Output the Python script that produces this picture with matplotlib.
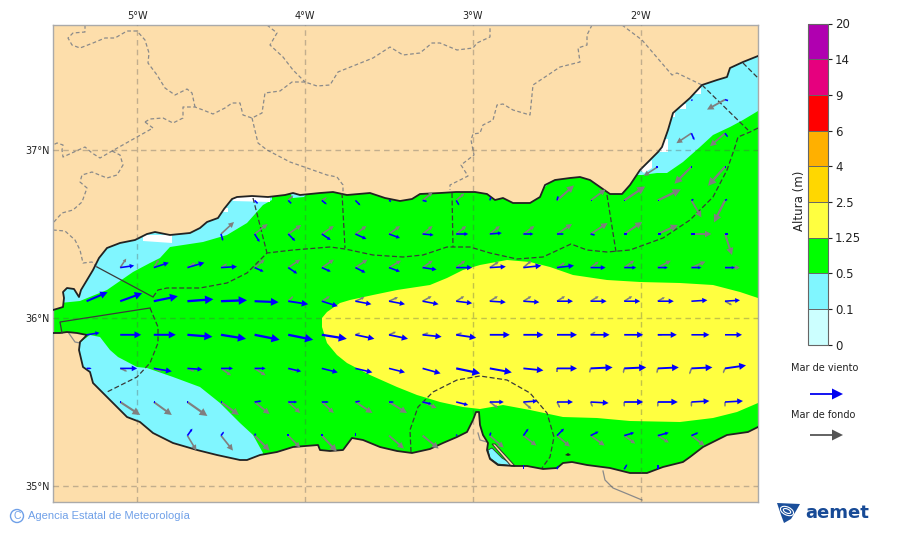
import matplotlib
matplotlib.use("Agg")
import numpy as np
import matplotlib.colors as mcolors
from matplotlib import pyplot as plt
from matplotlib.colorbar import Colorbar
from matplotlib.patches import Circle, Ellipse, FancyArrow, Polygon

# Outlines are digitised from the chart sheet: 168 sheet units per degree,
# 5W sits at x=137 and 36N at y=318, y grows southwards.
north_coast = [(53, 310), (63, 307), (64, 298), (63, 292), (67, 288), (74, 289), (79, 297), (81, 290), (87, 280),
               (93, 270), (99, 258), (107, 248), (120, 243), (135, 240), (147, 234), (155, 232), (170, 235),
               (190, 233), (200, 228), (207, 222), (218, 218), (224, 209), (232, 199), (237, 197), (252, 196),
               (268, 197), (285, 195), (293, 193), (300, 195), (320, 193), (333, 192), (347, 195), (370, 193),
               (385, 198), (400, 201), (412, 199), (420, 194), (440, 193), (456, 192), (475, 192), (487, 194),
               (495, 200), (503, 198), (513, 203), (530, 203), (540, 197), (545, 185), (555, 180), (570, 178),
               (580, 177), (590, 180), (600, 187), (610, 194), (622, 194), (630, 185), (640, 170), (658, 152),
               (662, 147), (668, 130), (673, 113), (690, 98), (702, 85), (717, 80), (727, 77), (730, 68),
               (743, 62), (758, 56)]
south_coast = [(758, 427), (748, 432), (727, 435), (703, 447), (690, 457), (683, 462), (663, 467), (647, 473),
               (630, 473), (610, 468), (587, 465), (572, 462), (563, 463), (557, 468), (543, 469), (527, 466),
               (515, 466), (498, 465), (490, 459), (487, 450), (488, 443), (483, 435), (480, 425), (479, 412),
               (476, 412), (473, 420), (467, 432), (457, 437), (443, 443), (430, 449), (412, 453), (397, 451),
               (380, 447), (363, 440), (352, 438), (343, 450), (330, 451), (320, 450), (318, 445), (293, 447),
               (277, 452), (260, 455), (247, 460), (240, 460), (217, 455), (197, 450), (173, 443), (153, 433),
               (140, 422), (127, 417), (113, 403), (103, 393), (93, 383), (90, 372), (83, 367), (79, 350),
               (80, 342), (87, 335), (77, 333), (67, 332), (60, 333), (53, 333)]

blue_nw = [(60, 303), (80, 301), (107, 290), (133, 272), (150, 263), (160, 258), (170, 247), (203, 242), (227, 235),
           (247, 223), (263, 205), (272, 200), (272, 185), (60, 185)]
blue_sw = [(79, 343), (90, 335), (100, 337), (110, 350), (118, 357), (137, 367), (147, 368), (173, 377), (200, 387),
           (220, 403), (240, 423), (253, 435), (263, 453), (257, 470), (60, 470), (60, 345)]
blue_ne = [(642, 175), (657, 173), (667, 173), (683, 162), (700, 147), (713, 135), (730, 127), (743, 120), (758, 111),
           (770, 111), (770, 40), (620, 40), (620, 175)]
blue_specks = [[(288, 190), (310, 190), (304, 197), (293, 198)], [(540, 192), (552, 180), (545, 178), (538, 188)]]
lagoon = [(488, 450), (490, 458), (498, 464), (515, 466), (502, 458), (492, 448)]
spit = [(492, 444), (495, 444), (515, 466), (511, 466)]
speck = [(565, 455), (568, 453), (571, 455), (568, 456)]

yellow_top = [(322, 318), (327, 312), (340, 303), (350, 300), (373, 295), (397, 290), (430, 285), (447, 278), (463, 270),
              (480, 265), (507, 260), (530, 262), (550, 267), (573, 275), (607, 280), (640, 282), (680, 283),
              (713, 285), (740, 292), (758, 298)]
yellow_bottom = [(758, 403), (737, 412), (713, 418), (680, 422), (630, 421), (597, 418), (563, 417), (530, 410),
                 (503, 405), (480, 409), (463, 407), (440, 402), (417, 395), (397, 387), (370, 375), (347, 363),
                 (337, 355), (327, 343), (322, 327)]

white_patches = [[(143, 235), (172, 235), (172, 243), (143, 241)], [(233, 195), (270, 195), (270, 202), (233, 201)],
                 [(222, 208), (228, 208), (228, 212), (222, 212)], [(660, 139), (668, 139), (668, 152), (660, 152)],
                 [(670, 112), (675, 112), (675, 117), (670, 117)], [(680, 104), (686, 104), (686, 109), (680, 109)],
                 [(694, 88), (701, 88), (701, 94), (694, 94)], [(640, 170), (652, 160), (652, 168), (644, 173)]]

# Limits of the forecast zones, the dashed ones run over the sea
zone_long = [(153, 297), (158, 290), (167, 288), (200, 288), (227, 283), (247, 273), (267, 253), (293, 250), (330, 247),
             (345, 249), (373, 255), (403, 257), (423, 255), (447, 247), (470, 247), (490, 253), (517, 259), (543, 257),
             (571, 244), (587, 250), (607, 252), (630, 250), (663, 238), (690, 220), (713, 197), (727, 170), (735, 147),
             (738, 137), (750, 132), (758, 128)]
zone_west = [(150, 308), (158, 327), (158, 343), (150, 363), (137, 377), (107, 392)]
zone_melilla = [(411, 452), (410, 430), (418, 407), (433, 392), (457, 380), (480, 376), (507, 380), (530, 393),
                (547, 413), (554, 437), (550, 457), (542, 468)]
zone_spokes = [[(253, 198), (267, 253)], [(342, 193), (345, 248)], [(452, 193), (453, 247)], [(607, 195), (616, 252)],
               [(702, 85), (748, 130)], [(743, 63), (758, 78)]]
strait_lines = [[(97, 267), (153, 297)], [(150, 308), (60, 322), (62, 333)]]

borders = [[(85, 25), (85, 32), (73, 33), (68, 38), (72, 45), (80, 48), (93, 43), (105, 38), (115, 38), (127, 31),
            (137, 31), (145, 40), (149, 53), (148, 63), (157, 75), (165, 88), (175, 95), (187, 89), (192, 93), (195, 107)],
           [(145, 122), (150, 119), (163, 118), (173, 123), (183, 118), (183, 107), (195, 107), (203, 110), (213, 114),
            (225, 108), (232, 103), (240, 103), (243, 115), (252, 118), (262, 113), (265, 93), (280, 91), (292, 82),
            (305, 82), (317, 86), (330, 85), (338, 72), (363, 62), (373, 58), (390, 47), (403, 55), (420, 53), (432, 43),
            (440, 43), (457, 50), (473, 48), (477, 43), (490, 37), (490, 25)],
           [(145, 122), (153, 128), (137, 137), (112, 151), (100, 158), (92, 153), (85, 147), (63, 157), (62, 150),
            (63, 145), (57, 143), (53, 145)],
           [(112, 151), (120, 155), (123, 165), (117, 175), (107, 178), (92, 172), (82, 175), (80, 182), (87, 188),
            (82, 202), (73, 210), (62, 213), (53, 223)],
           [(53, 230), (65, 231), (75, 240), (80, 250), (83, 263), (92, 262), (97, 267)],
           [(267, 25), (277, 33), (270, 45), (283, 57), (293, 70), (305, 82)],
           [(252, 118), (258, 143), (267, 150), (290, 162), (327, 175), (337, 177), (343, 185), (343, 193)],
           [(592, 25), (587, 35), (587, 45), (578, 48), (580, 62), (560, 67), (533, 85), (530, 115), (513, 110),
            (503, 104), (497, 105), (493, 120), (483, 125), (480, 133), (473, 134), (471, 140), (474, 155), (461, 165),
            (468, 176), (450, 185), (450, 190)],
           [(622, 25), (642, 40), (672, 75), (677, 73), (702, 85)]]
solid_borders = [[(603, 471), (605, 480), (613, 488), (630, 495), (642, 500)],
                 [(478, 433), (480, 440), (487, 442)], [(68, 332), (75, 342), (80, 343)]]

# Arrow grid of the model, components in sheet units (u east, v north)
arrow_lons = [-5.3, -5.1, -4.9, -4.7, -4.5, -4.3, -4.1, -3.9, -3.7, -3.5, -3.3, -3.1, -2.9, -2.7, -2.5, -2.3, -2.1, -1.9, -1.7, -1.5]
arrow_lats = [37.3, 37.1, 36.9, 36.7, 36.5, 36.3, 36.1, 35.9, 35.7, 35.5, 35.3, 35.1]

wind_u = [[0, 0, 0, 0, 0, 0, 0, 0, 0, 0, 0, 0, 0, 0, 0, 0, 0, 0, 1, 3],
          [0, 0, 0, 0, 0, 0, 0, 0, 0, 0, 0, 0, 0, 0, 0, 0, 0, 0, 3, 3],
          [0, 0, 0, 0, 0, 0, 0, 0, 0, 0, 0, 0, 0, 0, 0, 0, 0, -2, 1, 1],
          [0, 0, 0, 0, 0, 3, 3, 5, 5, 2, 4, 3, 1, 0, 1, 1, 1, 1, 2, 2],
          [0, 0, 0, 0, 2, 5, 7, 9, 11, 11, 11, 12, 12, 10, 7, 4, 3, 3, 4, 3],
          [0, 14, 15, 17, 16, 9, 9, 9, 10, 11, 14, 16, 16, 18, 17, 15, 12, 10, 10, 10],
          [21, 22, 24, 26, 26, 24, 20, 16, 16, 16, 16, 16, 16, 16, 16, 16, 16, 16, 16, 15],
          [13, 21, 22, 25, 25, 25, 25, 25, 19, 19, 19, 20, 20, 20, 20, 19, 19, 19, 18, 17],
          [5, 17, 18, 15, 12, 11, 13, 16, 17, 16, 18, 24, 22, 20, 20, 22, 22, 21, 21, 21],
          [0, 1, 1, 1, 1, 7, 9, 7, 5, 5, 9, 12, 14, 14, 16, 18, 19, 20, 18, 18],
          [0, 0, 0, 5, 3, 1, 0, 0, 0, 0, 0, 1, 1, 5, 7, 8, 10, 11, 7, 0],
          [0, 0, 0, 0, 0, 0, 0, 0, 0, 0, 0, 0, 0, 0, 1, 0, 3, 0, 0, 0]]
wind_v = [[0, 0, 0, 0, 0, 0, 0, 0, 0, 0, 0, 0, 0, 0, 0, 0, 0, 0, -1, -1],
          [0, 0, 0, 0, 0, 0, 0, 0, 0, 0, 0, 0, 0, 0, 0, 0, 0, 0, -7, -4],
          [0, 0, 0, 0, 0, 0, 0, 0, 0, 0, 0, 0, 0, 0, 0, 0, 0, 0, 0, 0],
          [0, 0, 0, 0, 0, -3, -3, -4, -5, -1, -1, -5, 3, 0, 4, 0, 0, 0, 1, 1],
          [0, 0, 0, 0, -7, -8, -7, -6, -5, -4, -1, 0, 1, 0, 0, -1, 0, 0, 0, 0],
          [0, 2, 5, 5, 1, -4, -6, -4, -5, -4, -2, 0, 1, 2, 2, 0, 0, 0, 0, 0],
          [9, 8, 5, 2, 1, -1, -3, -5, -3, -3, -3, -2, -1, -1, 0, 0, 0, 0, 1, 1],
          [2, 0, 0, -2, -4, -5, -5, -4, -4, -4, -2, -3, 0, 0, 0, 0, 0, 0, 0, 0],
          [0, 0, -3, -1, 0, 0, -3, -4, -4, -4, -5, -5, -4, -2, 0, 1, 1, 1, 1, 3],
          [0, 0, 0, 0, 0, 1, 0, 0, 1, 0, -2, -3, 0, 1, 0, -1, 0, 0, 1, 1],
          [0, 0, 0, 7, 4, 2, 2, 2, 3, 0, 0, 1, 3, 7, 7, 4, 3, 3, 3, 0],
          [0, 0, 0, 0, 0, 0, 0, 0, 0, 0, 0, 0, 0, 4, 3, 0, 5, 4, 0, 0]]
swell_u = [[0, 0, 0, 0, 0, 0, 0, 0, 0, 0, 0, 0, 0, 0, 0, 0, 0, 0, 0, -18],
           [0, 0, 0, 0, 0, 0, 0, 0, 0, 0, 0, 0, 0, 0, 0, 0, 0, 0, -15, -15],
           [0, 0, 0, 0, 0, 0, 0, 0, 0, 0, 0, 0, 0, 0, 0, 0, 0, -14, -17, -17],
           [0, 0, 0, 0, 0, 0, 5, 5, 0, 0, 10, 8, 0, 0, 17, 15, 21, 23, 10, -11],
           [0, 0, 0, 0, 13, 13, 13, 12, 11, 11, 10, 10, 10, 11, 15, 17, 18, 20, 20, 7],
           [0, 6, 5, 8, 6, 10, 12, 12, 12, 12, 10, 9, 9, 8, 8, 8, 10, 13, 14, 15],
           [0, 0, 0, 0, 0, 0, 5, 8, 9, 9, 9, 8, 8, 8, 8, 8, 8, 7, 0, 7],
           [0, 0, 0, 0, 0, 0, 0, 0, 5, 7, 6, 6, 0, 0, 0, 5, 0, 5, 0, 0],
           [0, 7, 8, 7, 10, 11, 7, 0, 0, 0, 0, 0, 0, 0, 0, -1, -1, -1, -2, -2],
           [0, 20, 18, 20, 18, 15, 12, 12, 17, 18, 14, 0, 8, 8, 3, 2, 0, 0, 0, 0],
           [0, 0, 0, 9, 12, 15, 12, 15, 0, 15, 16, 0, 14, 13, 13, 14, 11, 11, 13, 0],
           [0, 0, 0, 0, 0, 0, 0, 0, 0, 0, 0, 0, 0, 0, 0, 0, 0, 0, 0, 0]]
swell_v = [[0, 0, 0, 0, 0, 0, 0, 0, 0, 0, 0, 0, 0, 0, 0, 0, 0, 0, 0, -10],
           [0, 0, 0, 0, 0, 0, 0, 0, 0, 0, 0, 0, 0, 0, 0, 0, 0, 0, -10, -13],
           [0, 0, 0, 0, 0, 0, 0, 0, 0, 0, 0, 0, 0, 0, 0, 0, 0, -9, -17, -19],
           [0, 0, 0, 0, 0, 0, 5, 3, 0, 0, 8, 7, 0, 0, 15, 11, 14, 11, -17, -22],
           [0, 0, 0, 0, 12, 10, 9, 8, 8, 8, 8, 8, 8, 8, 10, 11, 12, 9, 0, -21],
           [0, 9, 8, 5, 4, 8, 8, 8, 8, 7, 7, 7, 6, 7, 5, 6, 7, 7, 6, 0],
           [0, 0, 0, 0, 0, 0, 5, 5, 4, 4, 5, 5, 5, 5, 5, 5, 5, 4, 0, -4],
           [0, 0, 0, 0, 0, 0, 0, 0, 2, 3, 2, 2, 0, 0, 0, 3, 0, 0, 0, 0],
           [0, -3, -3, -3, -7, -7, -3, 0, 0, 0, 0, 0, 0, 0, -4, -4, -5, -5, -6, -5],
           [0, -13, -13, -14, -13, -12, -11, -11, -11, -11, -6, 0, -6, -7, -6, -5, -5, -5, -5, -5],
           [0, 0, 0, -15, -15, -15, -12, -16, 0, -13, -13, 0, -12, -10, -11, -10, -8, -7, -10, 0],
           [0, 0, 0, 0, 0, 0, 0, 0, 0, 0, 0, 0, 0, 0, 0, 0, 0, 0, 0, 0]]

lon_ticks = [-5, -4, -3, -2]
lat_ticks = [35, 36, 37]
level_labels = ["0", "0.1", "0.5", "1.25", "2.5", "4", "6", "9", "14", "20"]
level_colors = ["#CCFFFF", "#80F6FF", "#00FF00", "#FFFF40", "#FFD700", "#FFB000", "#FF0000", "#E6007E", "#B000B0"]

LAND = "#FDDEAB"
WIND_COLOR = "#0000FF"
SWELL_COLOR = "#7F7F7F"
DEG = 168.0


def to_lonlat(points):
    pts = np.asarray(points, dtype=float)
    return np.column_stack((-5 + (pts[:, 0] - 137) / DEG, 36 + (318 - pts[:, 1]) / DEG))


def draw_line(ax, points, **kwargs):
    xy = to_lonlat(points)
    ax.plot(xy[:, 0], xy[:, 1], **kwargs)


def draw_arrows(ax, u_rows, v_rows, color, zorder):
    for lat, u_row, v_row in zip(arrow_lats, u_rows, v_rows):
        for lon, u, v in zip(arrow_lons, u_row, v_row):
            length = np.hypot(u, v)
            if length == 0:
                continue
            # Head and shaft grow with the arrow, stubs stay plain strokes
            head = 0.32 * length / DEG if length >= 5 else 0.0
            shaft = max(1.6, 0.09 * length) / DEG
            ax.add_patch(FancyArrow(lon, lat, u / DEG, v / DEG, width=shaft, head_width=max(0.33 * length / DEG, shaft),
                                    head_length=head, length_includes_head=True, color=color, lw=0, zorder=zorder))


fig = plt.figure(figsize=(9, 5.33), dpi=100)
ax = fig.add_axes([53 / 900, 1 - 502 / 533, 705 / 900, 477 / 533])
ax.set_facecolor(LAND)
ax.set_xlim(-5 + (53 - 137) / DEG, -5 + (758 - 137) / DEG)
ax.set_ylim(36 + (318 - 502) / DEG, 36 + (318 - 25) / DEG)

# Sea and the wave height bands, all clipped to the sea outline
sea = Polygon(to_lonlat(north_coast + south_coast), closed=True, facecolor=level_colors[2], edgecolor="none", zorder=1)
ax.add_patch(sea)
for outline in [blue_nw, blue_sw, blue_ne] + blue_specks:
    band = Polygon(to_lonlat(outline), closed=True, facecolor=level_colors[1], edgecolor="none", zorder=2)
    ax.add_patch(band)
    band.set_clip_path(sea)
band = Polygon(to_lonlat(yellow_top + yellow_bottom), closed=True, facecolor=level_colors[3], edgecolor="none", zorder=2)
ax.add_patch(band)
band.set_clip_path(sea)
for outline in white_patches:
    band = Polygon(to_lonlat(outline), closed=True, facecolor="white", edgecolor="none", zorder=3)
    ax.add_patch(band)
    band.set_clip_path(sea)
ax.add_patch(Polygon(to_lonlat(lagoon), closed=True, facecolor=level_colors[1], edgecolor="#333333", lw=0.6, zorder=3))
ax.add_patch(Polygon(to_lonlat(spit), closed=True, facecolor=LAND, edgecolor="#333333", lw=0.7, zorder=3))
ax.add_patch(Polygon(to_lonlat(speck), closed=True, facecolor="#222222", edgecolor="none", zorder=3))

# Coast and borders
for coast in [north_coast, south_coast]:
    draw_line(ax, coast, color="#222222", lw=1.3, zorder=4, solid_joinstyle="round")
for border in borders:
    draw_line(ax, border, color="#8A8A8A", lw=0.9, dashes=(3, 2), zorder=2)
for border in solid_borders:
    draw_line(ax, border, color="#8A8A8A", lw=0.9, zorder=2)
for zone in [zone_long, zone_west, zone_melilla] + zone_spokes:
    draw_line(ax, zone, color="#3A3A3A", lw=0.9, dashes=(4, 2), zorder=4)
for line in strait_lines:
    draw_line(ax, line, color="#3A3A3A", lw=0.9, zorder=4)

draw_arrows(ax, swell_u, swell_v, SWELL_COLOR, 6)
draw_arrows(ax, wind_u, wind_v, WIND_COLOR, 7)

# Graticule and its labels
for lon in lon_ticks:
    ax.axvline(lon, color="#555555", alpha=0.35, lw=1, dashes=(4, 3), zorder=5)
for lat in lat_ticks:
    ax.axhline(lat, color="#555555", alpha=0.35, lw=1, dashes=(4, 3), zorder=5)
ax.set_xticks(lon_ticks)
ax.set_xticklabels([f"{abs(lon)}°W" for lon in lon_ticks])
ax.set_yticks(lat_ticks)
ax.set_yticklabels([f"{lat}°N" for lat in lat_ticks])
ax.tick_params(axis="x", top=True, labeltop=True, bottom=False, labelbottom=False, length=0, pad=3, labelsize=7, colors="#222222")
ax.tick_params(axis="y", left=False, length=0, pad=2.5, labelsize=7, colors="#222222")
for spine in ax.spines.values():
    spine.set_color("#AAAAAA")
    spine.set_linewidth(1)

# Colour bar with one even cell per height band
levels = [float(label) for label in level_labels]
cax = fig.add_axes([808 / 900, 1 - 344.5 / 533, 20 / 900, 321 / 533])
cmap = mcolors.ListedColormap(level_colors)
norm = mcolors.BoundaryNorm(levels, cmap.N)
cbar = Colorbar(cax, cmap=cmap, norm=norm, boundaries=levels, spacing="uniform", ticks=levels, drawedges=True)
cbar.set_ticklabels(level_labels)
cbar.ax.tick_params(labelsize=8.5, length=3, width=0.8, pad=2, colors="#222222")
cbar.outline.set_edgecolor("#666666")
cbar.dividers.set_color("#666666")
cbar.dividers.set_linewidth(0.7)

# Everything around the map is placed on a full sheet overlay
sheet = fig.add_axes([0, 0, 1, 1])
sheet.set_xlim(0, 900)
sheet.set_ylim(533, 0)
sheet.axis("off")
sheet.text(799, 201, "Altura (m)", fontsize=8.5, rotation=90, ha="center", va="center", color="#222222")
sheet.text(825, 368, "Mar de viento", fontsize=7, ha="center", va="center", color="#222222")
sheet.text(823, 415, "Mar de fondo", fontsize=7, ha="center", va="center", color="#222222")
sheet.add_patch(FancyArrow(810, 394, 33, 0, width=1.8, head_width=11, head_length=11, length_includes_head=True, color="#0000F0", lw=0))
sheet.add_patch(FancyArrow(810, 435, 33, 0, width=1.8, head_width=11, head_length=11, length_includes_head=True, color="#555555", lw=0))

sheet.add_patch(Circle((17, 516), 6.5, facecolor="none", edgecolor="#6FA0E8", lw=1))
sheet.text(17, 516, "C", fontsize=7.5, ha="center", va="center", color="#6FA0E8", family="Liberation Sans")
sheet.text(28, 516, "Agencia Estatal de Meteorología", fontsize=8, ha="left", va="center", color="#6FA0E8", family="Liberation Sans")

# AEMET mark
sheet.add_patch(Polygon([(777, 503), (800, 504), (796, 511), (791, 519), (784, 523), (781, 515)], closed=True, facecolor="#1A4E9A", edgecolor="none"))
for width, height, angle in [(14, 8, 25), (8, 4, 25)]:
    sheet.add_patch(Ellipse((787, 511), width, height, angle=angle, facecolor="none", edgecolor="white", lw=0.8))
sheet.text(805, 513, "aemet", fontsize=13, fontweight="bold", ha="left", va="center", color="#174A96", family="DejaVu Sans")

fig.savefig("out.png", dpi=100)
